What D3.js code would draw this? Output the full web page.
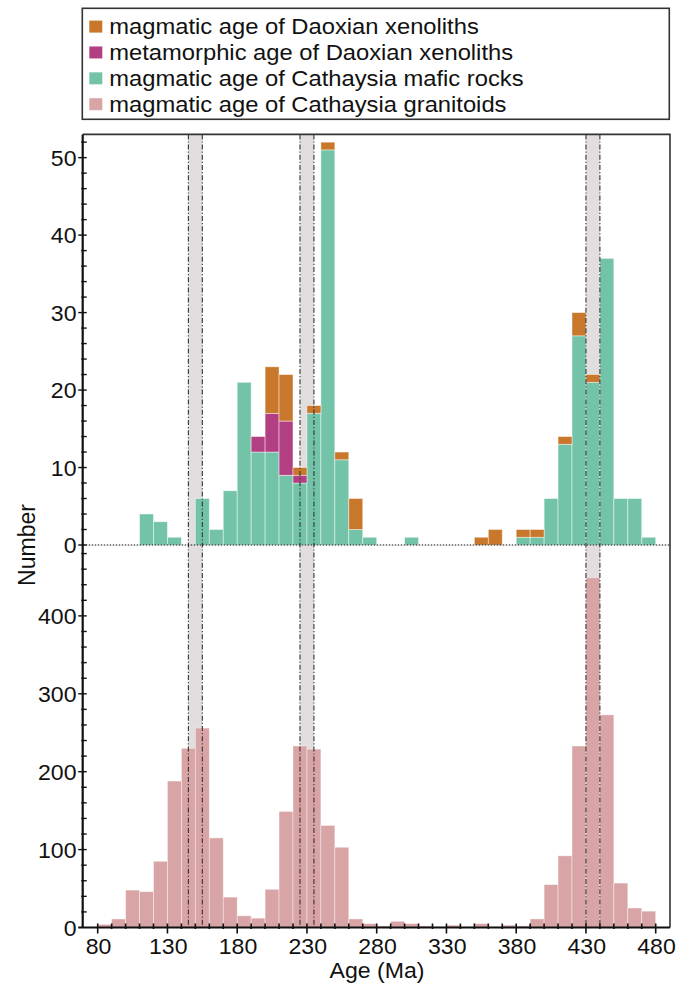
<!DOCTYPE html>
<html>
<head>
<meta charset="utf-8">
<script src="https://cdn.jsdelivr.net/npm/d3@7"></script>
<style>
  html, body { margin: 0; padding: 0; background: #fff; }
  svg { display: block; font-family: "Liberation Sans", Arial, sans-serif; }
</style>
</head>
<body>
<svg id="chart" width="688" height="983"></svg>
<script>
// Age bins (Ma), each 10 Ma wide, labelled by their lower edge
const binStarts = [80, 90, 100, 110, 120, 130, 140, 150, 160, 170,
                   180, 190, 200, 210, 220, 230, 240, 250, 260, 270,
                   280, 290, 300, 310, 320, 330, 340, 350, 360, 370,
                   380, 390, 400, 410, 420, 430, 440, 450, 460, 470];

// Upper panel (stacked): Cathaysia mafic rocks, Daoxian metamorphic, Daoxian magmatic
const maficCounts = [0, 0, 0, 4, 3, 1, 0, 6, 2, 7,
                     21, 12, 12, 9, 8, 17, 51, 11, 2, 1,
                     0, 0, 1, 0, 0, 0, 0, 0, 0, 0,
                     1, 1, 6, 13, 27, 21, 37, 6, 6, 1];
const metamorphicCounts = [0, 0, 0, 0, 0, 0, 0, 0, 0, 0,
                           0, 2, 5, 7, 1, 0, 0, 0, 0, 0,
                           0, 0, 0, 0, 0, 0, 0, 0, 0, 0,
                           0, 0, 0, 0, 0, 0, 0, 0, 0, 0];
const xenolithCounts = [0, 0, 0, 0, 0, 0, 0, 0, 0, 0,
                        0, 0, 6, 6, 1, 1, 1, 1, 4, 0,
                        0, 0, 0, 0, 0, 0, 0, 1, 2, 0,
                        1, 1, 0, 1, 3, 1, 0, 0, 0, 0];

// Lower panel: Cathaysia granitoids
const graniteCounts = [4, 11, 48, 46, 85, 188, 230, 256, 115, 39,
                       15, 12, 49, 149, 233, 229, 131, 103, 11, 5,
                       2, 8, 5, 2, 1, 3, 1, 5, 1, 3,
                       2, 11, 55, 92, 233, 449, 273, 57, 25, 21];

// Shaded age intervals [from, to] in Ma
const bandRanges = [[145, 155], [225, 235], [430, 440]];

// Axis ticks
const xTickValues = [80, 130, 180, 230, 280, 330, 380, 430, 480];
const topTickValues = [0, 10, 20, 30, 40, 50];
const bottomTickValues = [0, 100, 200, 300, 400];

const legendLabels = [
  "magmatic age of Daoxian xenoliths",
  "metamorphic age of Daoxian xenoliths",
  "magmatic age of Cathaysia mafic rocks",
  "magmatic age of Cathaysia granitoids"
];

const colors = {
  xenolith: "#c8772b",
  metamorphic: "#b33f83",
  mafic: "#73c3a9",
  granite: "#d8a4a5"
};
const legendColors = [colors.xenolith, colors.metamorphic, colors.mafic, colors.granite];

const svg = d3.select("#chart");

const plotLeft = 82.7, plotRight = 670, plotTop = 134.4, plotMid = 545, plotBottom = 927.5;

const x = d3.scaleLinear().domain([69.25, 490.25]).range([plotLeft, plotRight]);
const yTop = d3.scaleLinear().domain([0, 53]).range([plotMid, plotTop]);
const yBot = d3.scaleLinear().domain([0, 491]).range([plotBottom, plotMid]);

// Horizontally widened text, as in the original typesetting
function stretchedText(g, px, py, str, opts) {
  const s = opts.stretch || 1.05;
  return g.append("g")
    .attr("transform", `translate(${px},${py}) scale(${s},1)` + (opts.rotate ? ` rotate(${opts.rotate})` : ""))
    .append("text")
    .attr("text-anchor", opts.anchor || "start")
    .attr("font-size", opts.size || 22)
    .attr("fill", "#111")
    .text(str);
}

// ---- shaded bands (drawn beneath the bars) ----
svg.append("g").selectAll("rect").data(bandRanges).join("rect")
  .attr("x", d => x(d[0]))
  .attr("width", d => x(d[1]) - x(d[0]))
  .attr("y", plotTop)
  .attr("height", plotBottom - plotTop)
  .attr("fill", "#e2dede");

// ---- upper panel stacked bars ----
const stackRows = binStarts.map((b, i) => ({
  bin: b,
  mafic: maficCounts[i],
  metamorphic: metamorphicCounts[i],
  xenolith: xenolithCounts[i]
}));
const layers = d3.stack().keys(["mafic", "metamorphic", "xenolith"])(stackRows);

svg.append("g").selectAll("g").data(layers).join("g")
  .attr("fill", d => colors[d.key])
  .selectAll("rect").data(d => d.filter(p => p[1] > p[0])).join("rect")
  .attr("x", d => x(d.data.bin))
  .attr("width", d => x(d.data.bin + 10) - x(d.data.bin))
  .attr("y", d => yTop(d[1]))
  .attr("height", d => yTop(d[0]) - yTop(d[1]))
  .attr("stroke", "rgba(255,255,255,0.55)")
  .attr("stroke-width", 0.8);

// ---- lower panel bars ----
svg.append("g").selectAll("rect")
  .data(binStarts.map((b, i) => ({ bin: b, n: graniteCounts[i] })).filter(d => d.n > 0))
  .join("rect")
  .attr("x", d => x(d.bin))
  .attr("width", d => x(d.bin + 10) - x(d.bin))
  .attr("y", d => yBot(d.n))
  .attr("height", d => yBot(0) - yBot(d.n))
  .attr("fill", colors.granite)
  .attr("stroke", "rgba(255,255,255,0.5)")
  .attr("stroke-width", 0.8);

// ---- dash-dot band edges (over the bars) ----
svg.append("g").selectAll("line").data(bandRanges.flat()).join("line")
  .attr("x1", d => x(d)).attr("x2", d => x(d))
  .attr("y1", plotTop).attr("y2", plotBottom)
  .attr("stroke", "#333")
  .attr("stroke-width", 1.1)
  .attr("stroke-dasharray", "5,2,1.2,2");

// ---- zero line of the upper panel ----
svg.append("line")
  .attr("x1", plotLeft).attr("x2", plotRight)
  .attr("y1", yTop(0)).attr("y2", yTop(0))
  .attr("stroke", "#111")
  .attr("stroke-width", 1.2)
  .attr("stroke-dasharray", "1.5,1.5");

// ---- frame ----
svg.append("path")
  .attr("d", `M${plotLeft},${plotTop}H${plotRight}V${plotBottom}`)
  .attr("fill", "none")
  .attr("stroke", "#333")
  .attr("stroke-width", 1.6);

// ---- x axis ----
const xAxis = svg.append("g");
xAxis.append("line")
  .attr("x1", plotLeft - 4.5).attr("x2", plotRight)
  .attr("y1", plotBottom).attr("y2", plotBottom)
  .attr("stroke", "#111").attr("stroke-width", 2);
xAxis.selectAll("line.minor").data(d3.range(80, 481, 10)).join("line")
  .attr("class", "minor")
  .attr("x1", d => x(d)).attr("x2", d => x(d))
  .attr("y1", plotBottom - 4)
  .attr("y2", d => xTickValues.includes(d) ? plotBottom + 6 : plotBottom + 1.5)
  .attr("stroke", "#111").attr("stroke-width", 1.6);
xTickValues.forEach(v => {
  stretchedText(xAxis, x(v) + 0.8, 954, String(v), { anchor: "middle", size: 22 });
});
stretchedText(svg, 377, 978, "Age (Ma)", { anchor: "middle", size: 22 });

// ---- y axes ----
const yAxis = svg.append("g");
yAxis.append("line")
  .attr("x1", plotLeft).attr("x2", plotLeft)
  .attr("y1", plotTop).attr("y2", plotBottom)
  .attr("stroke", "#111").attr("stroke-width", 2.2);

yAxis.selectAll("line.topTick").data(d3.range(0, 53, 2)).join("line")
  .attr("class", "topTick")
  .attr("x1", d => topTickValues.includes(d) ? plotLeft - 4.5 : plotLeft - 1.5)
  .attr("x2", plotLeft + 4)
  .attr("y1", d => yTop(d)).attr("y2", d => yTop(d))
  .attr("stroke", "#111").attr("stroke-width", 1.4);

yAxis.selectAll("line.botTick").data(d3.range(20, 481, 20)).join("line")
  .attr("class", "botTick")
  .attr("x1", d => bottomTickValues.includes(d) ? plotLeft - 4.5 : plotLeft - 1.5)
  .attr("x2", plotLeft + 4)
  .attr("y1", d => yBot(d)).attr("y2", d => yBot(d))
  .attr("stroke", "#111").attr("stroke-width", 1.4);

topTickValues.forEach(v => {
  stretchedText(yAxis, 76.5, yTop(v) + 8, String(v), { anchor: "end", size: 22 });
});
bottomTickValues.forEach(v => {
  stretchedText(yAxis, 76.5, yBot(v) + 8, String(v), { anchor: "end", size: 22 });
});

stretchedText(svg, 35, 545, "Number", { anchor: "middle", size: 23, rotate: -90 });

// ---- legend ----
const legend = svg.append("g");
legend.append("rect")
  .attr("x", 82.3).attr("y", 8.3)
  .attr("width", 669.3 - 82.3).attr("height", 119.3 - 8.3)
  .attr("fill", "#fff")
  .attr("stroke", "#333").attr("stroke-width", 1.6);

const rowY = d3.scalePoint().domain(legendLabels).range([26.6, 104.2]);
legendLabels.forEach((label, i) => {
  const cy = rowY(label);
  legend.append("rect")
    .attr("x", 89.3).attr("y", cy - 6)
    .attr("width", 13).attr("height", 12)
    .attr("fill", legendColors[i]);
  stretchedText(legend, 109.3, cy + 7.8, label, { size: 22, stretch: 1.08 });
});
</script>
</body>
</html>
